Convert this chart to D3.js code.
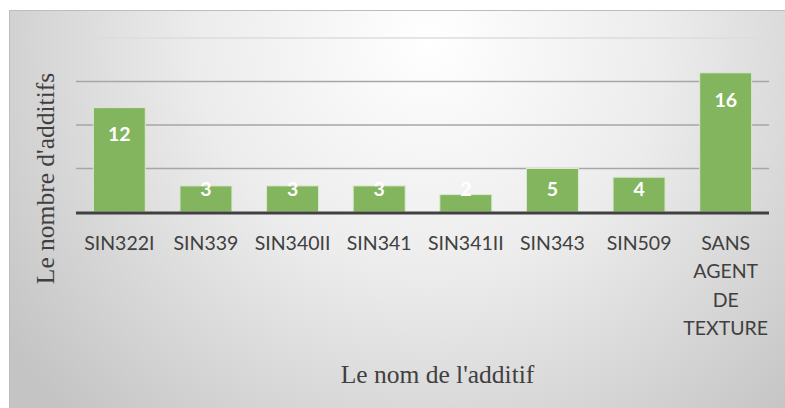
<!DOCTYPE html>
<html>
<head>
<meta charset="utf-8">
<script src="https://cdn.jsdelivr.net/npm/d3@7"></script>
<style>
    body { margin: 0; background: #fff; }
</style>
</head>
<body>
<div id="chart"></div>
<script>

// Data
let additifs = ["SIN322I", "SIN339", "SIN340II", "SIN341", "SIN341II", "SIN343", "SIN509", "SANS AGENT DE TEXTURE"];
let nombres = [12, 3, 3, 3, 2, 5, 4, 16];
let yTicks = [0, 5, 10, 15, 20];

let W = 785, H = 408;
let margin = {top: 38, right: 16, bottom: 196, left: 76};

let svg = d3.select("#chart").append("svg")
    .attr("width", W)
    .attr("height", H);

// background gradient
let defs = svg.append("defs");
let grad = defs.append("radialGradient")
    .attr("id", "bg")
    .attr("gradientUnits", "userSpaceOnUse")
    .attr("cx", 430).attr("cy", 40)
    .attr("r", 520);
grad.append("stop").attr("offset", "0%").attr("stop-color", "#ffffff");
grad.append("stop").attr("offset", "45%").attr("stop-color", "#ececec");
grad.append("stop").attr("offset", "100%").attr("stop-color", "#c4c4c4");

svg.append("rect")
    .attr("x", 9.5).attr("y", 10.5)
    .attr("width", W).attr("height", H)
    .attr("fill", "url(#bg)")
    .attr("stroke", "#bdbdbd")
    .attr("stroke-width", 1);

let width = W - margin.left - margin.right;
let height = H - margin.top - margin.bottom;

let g = svg.append("g")
    .attr("transform", "translate(" + margin.left + "," + margin.top + ")");

// Scales
let x = d3.scaleBand()
    .domain(additifs)
    .range([0, width])
    .paddingInner(0.4)
    .paddingOuter(0.2);

let y = d3.scaleLinear()
    .domain([0, 20])
    .range([height, 0]);

// gridlines
g.selectAll(".grid")
    .data(yTicks.filter(d => d > 0))
    .enter().append("line")
    .attr("class", "grid")
    .attr("x1", 0)
    .attr("x2", width)
    .attr("y1", d => y(d))
    .attr("y2", d => y(d))
    .attr("stroke", d => d == 20 ? "#dcdcdc" : "#a6a6a6")
    .attr("stroke-width", 1.5);

// bars
g.selectAll(".bar")
    .data(nombres)
    .enter().append("rect")
    .attr("class", "bar")
    .attr("x", (d, i) => x(additifs[i]))
    .attr("y", d => y(d))
    .attr("width", x.bandwidth())
    .attr("height", d => y(0) - y(d))
    .attr("fill", "#82b55e")
    .attr("stroke", "#dbe9d0")
    .attr("stroke-width", 1);

// baseline
g.append("line")
    .attr("x1", 0)
    .attr("x2", width)
    .attr("y1", y(0) + 1)
    .attr("y2", y(0) + 1)
    .attr("stroke", "#404040")
    .attr("stroke-width", 3);

// value labels
g.selectAll(".val")
    .data(nombres)
    .enter().append("text")
    .attr("class", "val")
    .attr("x", (d, i) => x(additifs[i]) + x.bandwidth() / 2)
    .attr("y", d => Math.min(y(d) + 27, y(0) - 23))
    .attr("dy", "0.35em")
    .attr("text-anchor", "middle")
    .attr("fill", "white")
    .attr("font-family", "Lato")
    .attr("font-weight", "bold")
    .attr("font-size", 19.5)
    .text(d => d);

// x labels
let xLab = g.selectAll(".x-label")
    .data(additifs)
    .enter().append("text")
    .attr("class", "x-label")
    .attr("x", d => x(d) + x.bandwidth() / 2)
    .attr("y", height + 31)
    .attr("text-anchor", "middle")
    .attr("fill", "#404040")
    .attr("font-family", "Lato")
    .attr("font-size", 19.5);

xLab.each(function (d) {
    let words = d.split(" ");
    d3.select(this).selectAll("tspan")
        .data(words)
        .enter().append("tspan")
        .attr("x", x(d) + x.bandwidth() / 2)
        .attr("dy", (w, i) => i == 0 ? "0.35em" : 28.5)
        .text(w => w);
});

// axis titles
svg.append("text")
    .attr("transform", "translate(45,178.5) rotate(-90)")
    .attr("text-anchor", "middle")
    .attr("dy", "0.35em")
    .attr("fill", "#404040")
    .attr("font-family", "Liberation Serif")
    .attr("font-size", 25.5)
    .text("Le nombre d'additifs");

svg.append("text")
    .attr("x", 437.5)
    .attr("y", 374)
    .attr("text-anchor", "middle")
    .attr("dy", "0.35em")
    .attr("fill", "#404040")
    .attr("font-family", "Liberation Serif")
    .attr("font-size", 25.5)
    .text("Le nom de l'additif");

</script>
</body>
</html>
